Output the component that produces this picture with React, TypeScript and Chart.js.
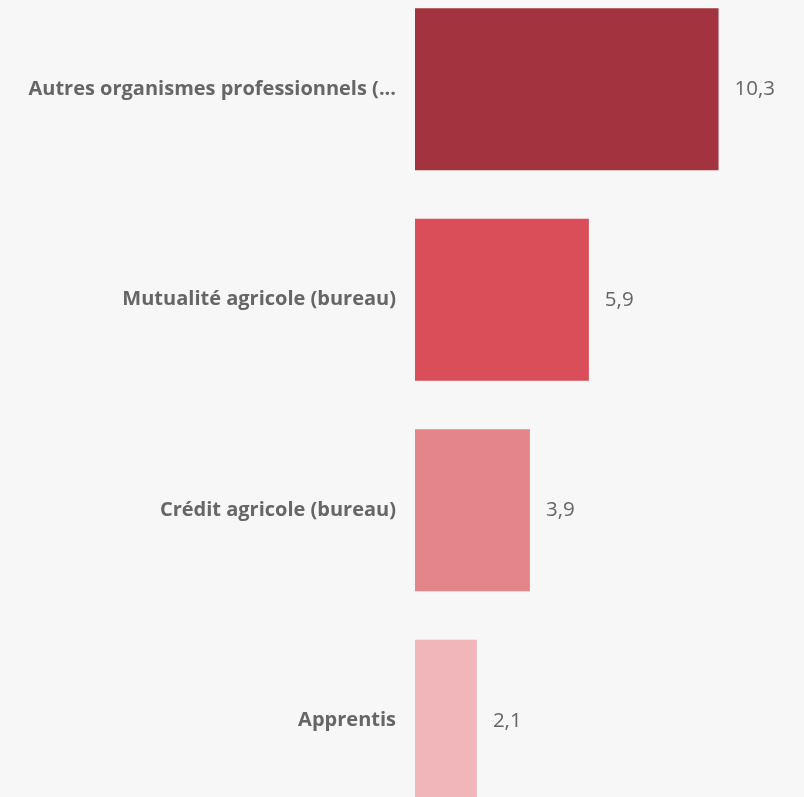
import React, { useEffect, useRef } from "react";
import { Chart, registerables } from "chart.js";

Chart.register(...registerables);

const categories = [
  "Autres organismes professionnels (...",
  "Mutualité agricole (bureau)",
  "Crédit agricole (bureau)",
  "Apprentis",
];
const values = [10.3, 5.9, 3.9, 2.1];
const barColors = ["#a3333f", "#d94e58", "#e4858a", "#f0b6b9"];
const axisMax = 13.2;

const FONT = "'Open Sans', 'Noto Sans', sans-serif";

const valueLabels = {
  id: "valueLabels",
  afterDatasetsDraw(chart: any) {
    const ctx = chart.ctx;
    const meta = chart.getDatasetMeta(0);
    ctx.save();
    ctx.font = `400 20.5px ${FONT}`;
    ctx.fillStyle = "#666666";
    ctx.textAlign = "left";
    ctx.textBaseline = "middle";
    meta.data.forEach((bar: any, i: number) => {
      const txt = values[i].toLocaleString("fr-FR", { minimumFractionDigits: 1 });
      ctx.fillText(txt, bar.x + 16, bar.y);
    });
    ctx.restore();
  },
};

export default function App() {
  const ref = useRef<HTMLCanvasElement>(null);
  useEffect(() => {
    document.body.style.margin = "0";
    document.body.style.background = "#f7f7f7";
    document.body.style.overflow = "hidden";
    const chart = new Chart(ref.current!, {
      type: "bar",
      data: {
        labels: categories,
        datasets: [
          {
            data: values,
            backgroundColor: barColors,
            borderWidth: 0,
            categoryPercentage: 1,
            barPercentage: 0.77,
          },
        ],
      },
      options: {
        indexAxis: "y",
        animation: false,
        responsive: false,
        maintainAspectRatio: false,
        layout: { padding: 0 },
        plugins: { legend: { display: false }, tooltip: { enabled: false } },
        scales: {
          x: { display: false, min: 0, max: axisMax },
          y: {
            grid: { display: false, drawTicks: false },
            border: { display: false },
            ticks: {
              padding: 19,
              color: "#666666",
              font: { family: FONT, size: 20, weight: "bold" },
            },
            afterFit(scale: any) {
              scale.width = 415;
              scale.paddingTop = 0;
              scale.paddingBottom = 0;
            },
          },
        },
      },
      plugins: [valueLabels],
    });
    return () => chart.destroy();
  }, []);
  return (
    <div style={{ position: "relative", width: 804, height: 797, overflow: "hidden", background: "#f7f7f7" }}>
      <canvas
        ref={ref}
        width={804}
        height={842}
        style={{ position: "absolute", left: 0, top: -16, width: 804, height: 842 }}
      />
    </div>
  );
}
